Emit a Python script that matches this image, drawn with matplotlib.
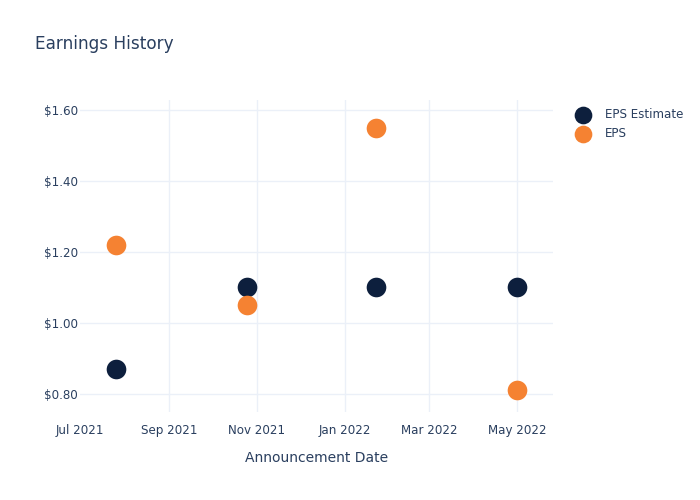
import matplotlib
matplotlib.use('Agg')
import matplotlib.pyplot as plt
import matplotlib.dates as mdates
import pandas as pd

dates = pd.to_datetime(['2021-07-26', '2021-10-25', '2022-01-23', '2022-05-01'])
eps_estimate = [0.87, 1.10, 1.10, 1.10]
eps_actual = [1.22, 1.05, 1.55, 0.81]

text_color = '#2a3f5f'
navy = '#0d1f3d'
orange = '#f58232'

fig = plt.figure(figsize=(7, 5), dpi=100)
ax = fig.add_axes([80 / 700, 1 - 412 / 500, (553 - 80) / 700, (412 - 100) / 500])

ax.scatter(dates, eps_estimate, s=200, color=navy, label='EPS Estimate', zorder=3, linewidths=0)
ax.scatter(dates, eps_actual, s=200, color=orange, label='EPS', zorder=4, linewidths=0)

ax.set_xlim(pd.Timestamp('2021-07-01'), pd.Timestamp('2022-05-26'))
ax.set_ylim(0.749, 1.628)

ax.xaxis.set_major_locator(mdates.MonthLocator(bymonth=[1, 3, 5, 7, 9, 11]))
ax.xaxis.set_major_formatter(mdates.DateFormatter('%b %Y'))
ax.set_yticks([0.8, 1.0, 1.2, 1.4, 1.6])
ax.set_yticklabels(['$%.2f' % v for v in [0.8, 1.0, 1.2, 1.4, 1.6]])

ax.grid(True, color='#ebf0f8', linewidth=1)
ax.set_axisbelow(True)
# plotly leaves out the grid line sitting on the left edge
ax.get_xgridlines()[0].set_visible(False)
for s in ax.spines.values():
    s.set_visible(False)
ax.tick_params(length=0, labelsize=8.6, labelcolor=text_color)
ax.tick_params(axis='x', pad=8.5)
ax.tick_params(axis='y', pad=1.5)

ax.set_xlabel('Announcement Date', fontsize=10, color=text_color, labelpad=10)
fig.text(35 / 700, 1 - 44 / 500, 'Earnings History', fontsize=12.2, color=text_color, va='center')

leg = fig.legend(loc='upper left', bbox_to_anchor=(566 / 700, 1 - 103 / 500), frameon=False,
                 fontsize=8.6, labelcolor=text_color, markerscale=0.9, handletextpad=0.85,
                 labelspacing=0.5, borderaxespad=0)

fig.savefig('out.png', dpi=100)
